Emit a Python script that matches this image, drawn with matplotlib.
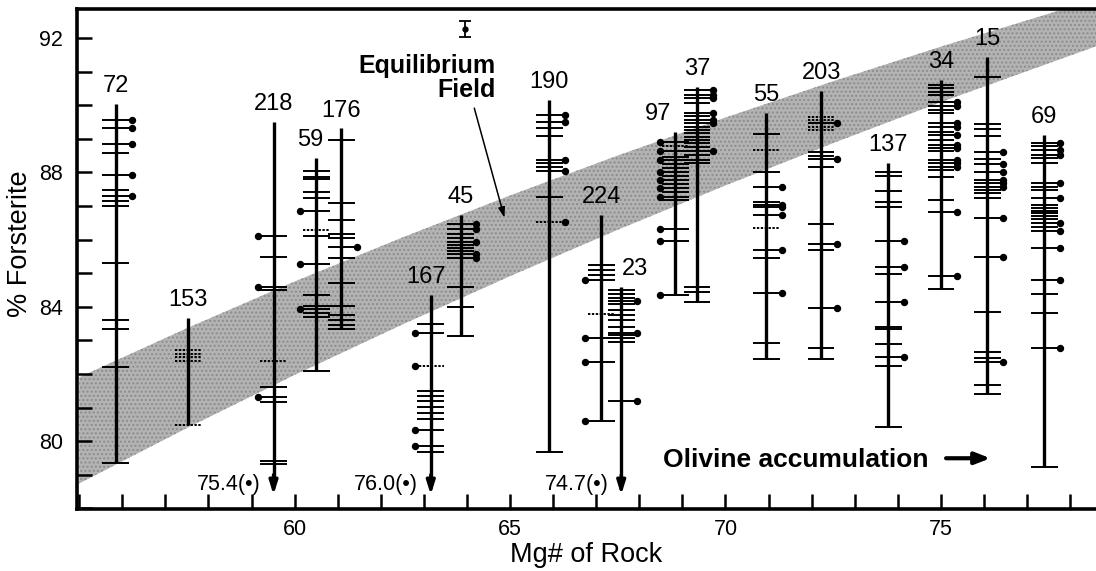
import matplotlib.pyplot as plt
from matplotlib.ticker import MultipleLocator, FixedLocator

plt.rcParams['font.family'] = ['Liberation Sans', 'DejaVu Sans']

# samples (label, Mg# of rock, highest and lowest Fo of the range)
labels = ['72', '153', '218', '59', '176', '167', '45', '190', '224',
          '23', '97', '37', '55', '203', '137', '34', '15', '69']
mg = [55.85, 57.53, 59.51, 60.50, 61.08, 63.16, 63.85, 65.91, 67.12,
      67.58, 68.84, 69.34, 70.95, 72.22, 73.78, 75.00, 76.08, 77.40]
top = [90.04, 83.66, 89.51, 88.42, 89.31, 84.35, 86.73, 90.15, 86.73,
       84.60, 89.21, 90.55, 89.76, 90.42, 88.29, 90.75, 91.43, 89.11]
bottom = [79.36, 80.49, 75.4, 82.10, 83.33, 76.0, 83.14, 79.69, 80.61,
          74.7, 84.36, 84.15, 82.44, 82.45, 80.41, 84.52, 81.40, 79.22]

# individual olivine analyses (% Fo)
ticks = [
    [89.56, 89.31, 88.85, 88.57, 87.92, 87.48, 87.30, 87.15, 87.00, 85.29, 83.59, 83.33, 82.22, 79.36],
    [82.71, 82.60, 82.49, 82.37, 80.49],
    [86.09, 85.49, 84.60, 84.50, 82.39, 81.62, 81.30, 81.15, 79.41, 79.31],
    [88.05, 87.87, 87.80, 87.40, 87.23, 86.86, 86.29, 86.11, 85.27, 84.35, 84.03, 83.93, 83.80, 83.70, 82.10],
    [88.96, 87.08, 86.58, 86.16, 86.04, 85.77, 85.44, 84.72, 84.02, 83.76, 83.60, 83.46, 83.33],
    [83.49, 83.21, 82.24, 81.50, 81.35, 81.18, 81.01, 80.85, 80.65, 80.33, 79.84, 79.69],
    [86.45, 86.30, 86.15, 86.04, 85.94, 85.84, 85.76, 85.66, 85.56, 85.46, 84.58, 83.98, 83.14],
    [89.71, 89.51, 89.31, 89.08, 88.37, 88.27, 88.17, 88.04, 87.28, 86.53, 79.69],
    [85.24, 85.10, 84.95, 84.80, 83.78, 83.06, 82.35, 80.61],
    [84.50, 84.38, 84.25, 84.18, 84.08, 83.90, 83.76, 83.59, 83.41, 83.23, 83.16, 83.06, 82.96, 81.20],
    [88.91, 88.77, 88.62, 88.47, 88.37, 88.25, 88.13, 88.00, 87.88, 87.76, 87.64, 87.52, 87.40, 87.28,
     87.18, 86.31, 85.97, 84.36],
    [90.45, 90.30, 90.20, 90.06, 89.76, 89.68, 89.56, 89.46, 89.36, 89.26, 89.16, 89.06, 88.96, 88.86,
     88.76, 88.62, 88.52, 88.37, 88.27, 84.58, 84.43, 84.15],
    [89.14, 88.67, 88.02, 87.56, 87.13, 87.03, 86.96, 86.73, 86.34, 85.69, 85.44, 84.42, 82.93, 82.44],
    [89.66, 89.56, 89.46, 89.36, 89.26, 88.59, 88.49, 88.39, 88.17, 86.45, 85.86, 85.69, 83.95, 82.78, 82.45],
    [88.02, 87.89, 87.45, 87.13, 86.98, 85.97, 85.19, 84.98, 84.13, 83.41, 83.33, 82.88, 82.49, 82.24, 80.41],
    [90.60, 90.50, 90.40, 90.30, 90.10, 89.96, 89.86, 89.76, 89.46, 89.36, 89.21, 89.11, 88.96, 88.81,
     88.72, 88.62, 88.37, 88.27, 88.17, 88.07, 87.87, 87.18, 86.83, 84.90, 84.52],
    [90.83, 89.44, 89.28, 89.08, 88.59, 88.39, 88.25, 88.02, 87.77, 87.67, 87.57, 87.47, 87.37, 87.24,
     86.65, 85.49, 83.84, 82.64, 82.47, 82.34, 81.67, 81.40],
    [88.88, 88.79, 88.67, 88.52, 88.42, 88.29, 87.68, 87.56, 87.48, 87.23, 87.03, 86.93, 86.86, 86.78,
     86.70, 86.60, 86.50, 86.38, 86.24, 85.74, 84.80, 84.38, 83.82, 82.76, 79.22],
]
# analyses marked with a dot
dots = [
    [89.56, 89.31, 88.85, 87.92, 87.30],
    [],
    [86.09, 84.60, 81.30],
    [86.86, 85.27, 83.93],
    [85.77],
    [83.21, 82.24, 80.33, 79.84],
    [86.45, 86.30, 85.94, 85.56, 85.46],
    [89.71, 89.51, 88.37, 88.04, 86.53],
    [84.80, 83.06, 82.35, 80.61],
    [84.18, 83.23, 81.20],
    [88.91, 88.62, 88.37, 88.00, 87.76, 87.52, 87.28, 86.31, 85.97, 84.36],
    [90.45, 90.30, 90.20, 89.76, 89.56, 89.46, 88.62],
    [87.56, 87.03, 86.96, 86.73, 85.69, 84.42],
    [89.46, 88.39, 85.86, 83.95],
    [85.97, 85.19, 84.13, 82.49],
    [90.10, 89.96, 89.46, 89.36, 89.11, 88.81, 88.72, 88.37, 88.27, 88.17, 86.83, 84.90],
    [88.59, 88.25, 88.02, 87.77, 87.67, 87.57, 86.65, 85.49, 82.34],
    [88.88, 88.67, 88.52, 87.68, 87.23, 86.50, 86.24, 85.74, 84.80, 82.76],
]
# analyses drawn with a broken line
dashed = [[], [82.71, 82.60, 82.49, 82.37, 80.49], [82.39], [86.29], [], [82.24], [], [86.53], [83.78],
          [], [88.77], [], [88.67, 86.34], [89.66, 89.56, 89.36, 89.26], [], [], [], []]
dot_side = [1, 1, -1, -1, 1, -1, 1, 1, -1, 1, -1, 1, 1, 1, 1, 1, 1, 1]
off_scale = ['218', '167', '23']

# equilibrium field edges
band_mg = [55, 57.5, 60, 62.5, 65, 67.5, 70, 72.5, 75, 78.6]
band_hi = [81.90, 83.36, 84.75, 86.06, 87.31, 88.50, 89.63, 90.71, 91.74, 93.15]
band_lo = [78.74, 80.39, 81.97, 83.47, 84.91, 86.29, 87.61, 88.87, 90.09, 91.75]

# analytical uncertainty symbol
err_mg, err_fo, err_sd = 63.95, 92.27, 0.23

fig = plt.figure(figsize=(10.96, 5.71), dpi=100)
ax = fig.add_axes([0.0703, 0.1086, 0.9297, 0.8756])

ax.fill_between(band_mg, band_lo, band_hi, facecolor='#b3b3b3', edgecolor='#8c8c8c',
                hatch='....', lw=0, zorder=0)

hw, dx = 0.31, 0.37
label_dx = {'97': -0.41, '23': 0.32, '59': -0.13, '167': -0.12}
for i, lab in enumerate(labels):
    x = mg[i]
    s = dot_side[i]
    lo = 78.9 if lab in off_scale else bottom[i]
    ax.plot([x, x], [lo, top[i]], color='k', lw=2.4, solid_capstyle='butt', zorder=3)
    for t in ticks[i]:
        x0, x1 = x - hw, x + hw
        if t in dots[i]:
            if s > 0:
                x1 = x + dx
            else:
                x0 = x - dx
        ls = (0, (1.2, 0.8)) if t in dashed[i] else '-'
        ax.plot([x0, x1], [t, t], color='k', lw=1.4, ls=ls, solid_capstyle='butt', zorder=3)
    if dots[i]:
        ax.plot([x + s * dx] * len(dots[i]), dots[i], 'o', color='k', ms=4.3, zorder=4)
    ax.text(x + label_dx.get(lab, 0), top[i] + 0.2, lab, ha='center', va='bottom',
            fontsize=17, zorder=5)
    if lab in off_scale:
        ax.annotate('', xy=(x, 78.4), xytext=(x, 79.0),
                    arrowprops=dict(arrowstyle='-|>,head_length=0.8,head_width=0.25',
                                    lw=2.4, color='k', shrinkA=0, shrinkB=0))
        ax.text(x - 0.3, 78.72, '%.1f(•)' % bottom[i], ha='right', va='center', fontsize=15.5)

ax.errorbar(err_mg, err_fo, yerr=err_sd, fmt='o', ms=3.5, color='k', capsize=4,
            lw=1.3, capthick=1.3)

ax.text(64.67, 91.17, 'Equilibrium', ha='right', va='center', fontsize=18, fontweight='bold')
ax.text(64.67, 90.45, 'Field', ha='right', va='center', fontsize=18, fontweight='bold')
ax.annotate('', xy=(64.87, 86.65), xytext=(64.17, 89.91),
            arrowprops=dict(arrowstyle='-|>,head_length=0.6,head_width=0.2', lw=1.1,
                            color='k', shrinkA=0, shrinkB=0))

ax.text(68.55, 79.44, 'Olivine accumulation', ha='left', va='center', fontsize=19,
        fontweight='bold')
ax.annotate('', xy=(76.15, 79.49), xytext=(75.12, 79.49),
            arrowprops=dict(arrowstyle='-|>,head_length=0.9,head_width=0.35', lw=3,
                            color='k', shrinkA=0, shrinkB=0))

ax.set_xlim(54.95, 78.6)
ax.set_ylim(77.98, 92.86)
ax.xaxis.set_major_locator(FixedLocator([60, 65, 70, 75]))
ax.xaxis.set_minor_locator(MultipleLocator(1))
ax.yaxis.set_major_locator(MultipleLocator(4))
ax.yaxis.set_minor_locator(MultipleLocator(1))
ax.tick_params(which='both', direction='in', length=11, width=1.8, labelsize=15.5)
ax.tick_params(axis='x', pad=7)
ax.tick_params(axis='y', pad=10)
for side in ['left', 'bottom', 'top']:
    ax.spines[side].set_linewidth(2.6)
ax.spines['right'].set_visible(False)

ax.set_xlabel('Mg# of Rock', fontsize=19.5, labelpad=2)
ax.set_ylabel('% Forsterite', fontsize=19.5)
ax.yaxis.set_label_coords(-0.043, 0.53)

fig.savefig('out.png', dpi=100)
